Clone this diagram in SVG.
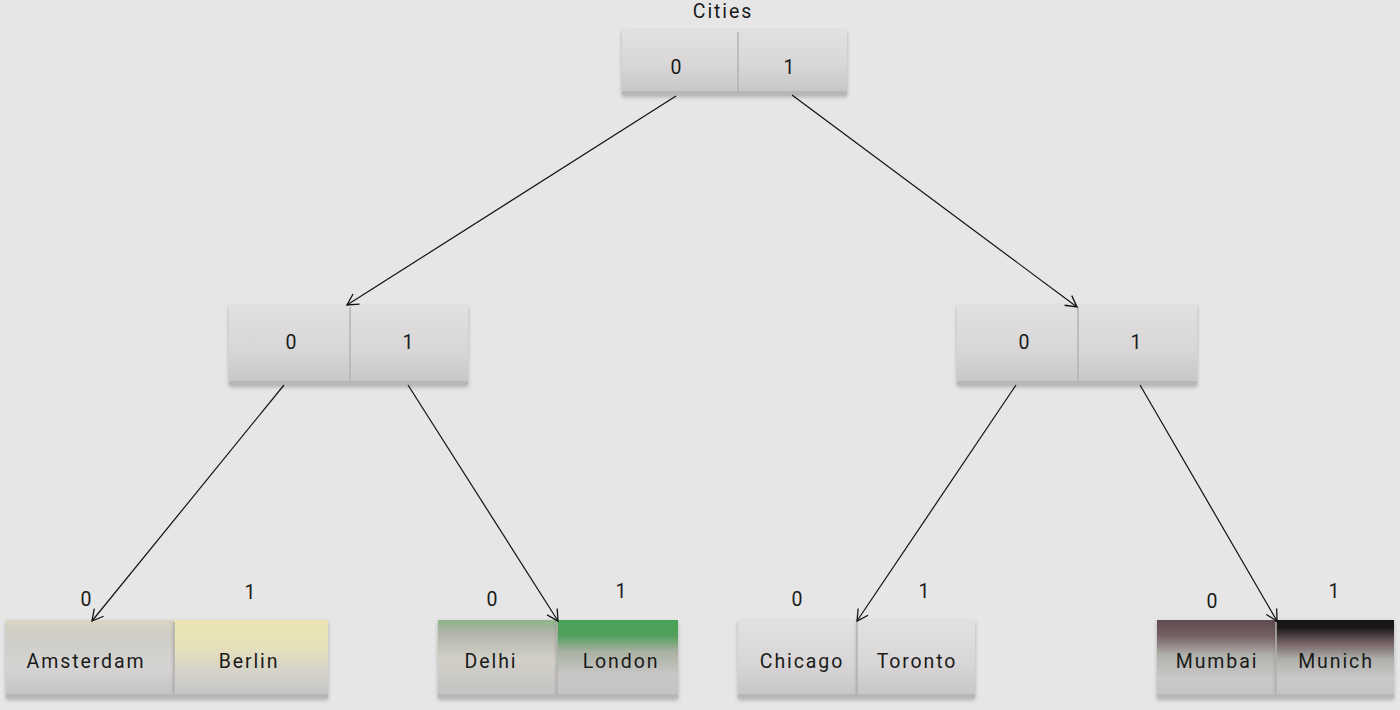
<svg xmlns="http://www.w3.org/2000/svg" width="1400" height="710" viewBox="0 0 1400 710">
<defs>
<linearGradient id="g" x1="0" y1="0" x2="0" y2="1">
<stop offset="0" stop-color="#e2e0e0"/><stop offset="0.55" stop-color="#d8d6d6"/><stop offset="1" stop-color="#c6c4c4"/>
</linearGradient>
<linearGradient id="gAms" x1="0" y1="0" x2="0" y2="1">
<stop offset="0" stop-color="#d8d6c0"/><stop offset="0.2" stop-color="#cfcdc6"/><stop offset="0.6" stop-color="#d6d4d3"/><stop offset="1" stop-color="#c4c2c2"/>
</linearGradient>
<linearGradient id="gBer" x1="0" y1="0" x2="0" y2="1">
<stop offset="0" stop-color="#ece5b0"/><stop offset="0.3" stop-color="#e8e2b8"/><stop offset="0.7" stop-color="#d4d2cc"/><stop offset="1" stop-color="#c4c2c2"/>
</linearGradient>
<linearGradient id="gDel" x1="0" y1="0" x2="0" y2="1">
<stop offset="0" stop-color="#8db58a"/><stop offset="0.15" stop-color="#b0b3a8"/><stop offset="0.5" stop-color="#d2d0c8"/><stop offset="1" stop-color="#c4c2c2"/>
</linearGradient>
<linearGradient id="gLon" x1="0" y1="0" x2="0" y2="1">
<stop offset="0" stop-color="#4aa257"/><stop offset="0.2" stop-color="#52a05c"/><stop offset="0.4" stop-color="#a8b0a0"/><stop offset="0.7" stop-color="#c8c6c6"/><stop offset="1" stop-color="#c4c2c2"/>
</linearGradient>
<linearGradient id="gMum" x1="0" y1="0" x2="0" y2="1">
<stop offset="0" stop-color="#5e4c50"/><stop offset="0.2" stop-color="#745f63"/><stop offset="0.45" stop-color="#b1b2ac"/><stop offset="0.75" stop-color="#cac8c8"/><stop offset="1" stop-color="#c4c2c2"/>
</linearGradient>
<linearGradient id="gMun" x1="0" y1="0" x2="0" y2="1">
<stop offset="0" stop-color="#161212"/><stop offset="0.1" stop-color="#1e1818"/><stop offset="0.28" stop-color="#6e5c60"/><stop offset="0.5" stop-color="#aeafaa"/><stop offset="0.75" stop-color="#cac8c8"/><stop offset="1" stop-color="#c4c2c2"/>
</linearGradient>
<filter id="sh" x="-5%" y="-10%" width="110%" height="130%">
<feGaussianBlur in="SourceAlpha" stdDeviation="2"/><feOffset dy="2"/>
<feComponentTransfer><feFuncA type="linear" slope="0.25"/></feComponentTransfer>
<feMerge><feMergeNode/><feMergeNode in="SourceGraphic"/></feMerge>
</filter>
<marker id="arr" markerWidth="14" markerHeight="14" refX="12" refY="7" orient="auto" markerUnits="userSpaceOnUse">
<path d="M1,1 L12,7 L1,13" fill="none" stroke="#111" stroke-width="1.3"/>
</marker>
</defs>
<style>
text{font-family:Roboto,"Liberation Sans",sans-serif;font-size:19.5px;fill:#1a1a1a;letter-spacing:1.9px;text-anchor:middle}
.cell{filter:url(#sh)}
.div{stroke:#b4b2b2;stroke-width:1.5}
.base{fill:#b8b6b6}
.con line{stroke:#111;stroke-width:1.2;marker-end:url(#arr)}
</style>
<rect width="1400" height="710" fill="#e6e6e6"/>

<text x="723" y="18">Cities</text>

<g id="root">
<rect class="cell" x="622" y="30" width="225" height="65" fill="url(#g)"/>
<rect class="base" x="622" y="91" width="225" height="4"/>
<line class="div" x1="738" y1="32" x2="738" y2="93"/>
<text x="677" y="74">0</text><text x="790" y="74">1</text>
</g>

<g id="mid-left">
<rect class="cell" x="229" y="305" width="239" height="80" fill="url(#g)"/>
<rect class="base" x="229" y="381" width="239" height="4"/>
<line class="div" x1="350" y1="307" x2="350" y2="383"/>
<text x="292" y="349">0</text><text x="409" y="349">1</text>
</g>

<g id="mid-right">
<rect class="cell" x="957" y="305" width="240" height="80" fill="url(#g)"/>
<rect class="base" x="957" y="381" width="240" height="4"/>
<line class="div" x1="1078" y1="307" x2="1078" y2="383"/>
<text x="1025" y="349">0</text><text x="1137" y="349">1</text>
</g>

<g id="leaf-ams-ber">
<rect class="cell" x="6" y="620" width="168" height="78" fill="url(#gAms)"/>
<rect class="cell" x="174" y="620" width="154" height="78" fill="url(#gBer)"/>
<rect class="base" x="6" y="694" width="322" height="4"/>
<line class="div" x1="174" y1="622" x2="174" y2="696"/>
<text x="87" y="606">0</text><text x="251" y="599">1</text>
<text x="86" y="668">Amsterdam</text><text x="249" y="668">Berlin</text>
</g>

<g id="leaf-del-lon">
<rect class="cell" x="438" y="620" width="119" height="78" fill="url(#gDel)"/>
<rect class="cell" x="557" y="620" width="121" height="78" fill="url(#gLon)"/>
<rect class="base" x="438" y="694" width="240" height="4"/>
<line class="div" x1="557" y1="622" x2="557" y2="696"/>
<text x="493" y="606">0</text><text x="622" y="598">1</text>
<text x="491" y="668">Delhi</text><text x="621" y="668">London</text>
</g>

<g id="leaf-chi-tor">
<rect class="cell" x="738" y="620" width="119" height="78" fill="url(#g)"/>
<rect class="cell" x="857" y="620" width="118" height="78" fill="url(#g)"/>
<rect class="base" x="738" y="694" width="237" height="4"/>
<line class="div" x1="857" y1="622" x2="857" y2="696"/>
<text x="798" y="606">0</text><text x="925" y="598">1</text>
<text x="802" y="668">Chicago</text><text x="917" y="668">Toronto</text>
</g>

<g id="leaf-mum-mun">
<rect class="cell" x="1157" y="620" width="119" height="78" fill="url(#gMum)"/>
<rect class="cell" x="1276" y="620" width="118" height="78" fill="url(#gMun)"/>
<rect class="base" x="1157" y="694" width="237" height="4"/>
<line class="div" x1="1276" y1="622" x2="1276" y2="696"/>
<text x="1213" y="608">0</text><text x="1335" y="598">1</text>
<text x="1217" y="668">Mumbai</text><text x="1336" y="668">Munich</text>
</g>

<g id="connectors" class="con">
<line x1="676" y1="96" x2="347" y2="305"/>
<line x1="792" y1="95" x2="1077" y2="307"/>
<line x1="284" y1="385" x2="92" y2="621"/>
<line x1="408" y1="385" x2="558" y2="621"/>
<line x1="1016" y1="385" x2="857" y2="621"/>
<line x1="1140" y1="385" x2="1277" y2="621"/>
</g>
</svg>
